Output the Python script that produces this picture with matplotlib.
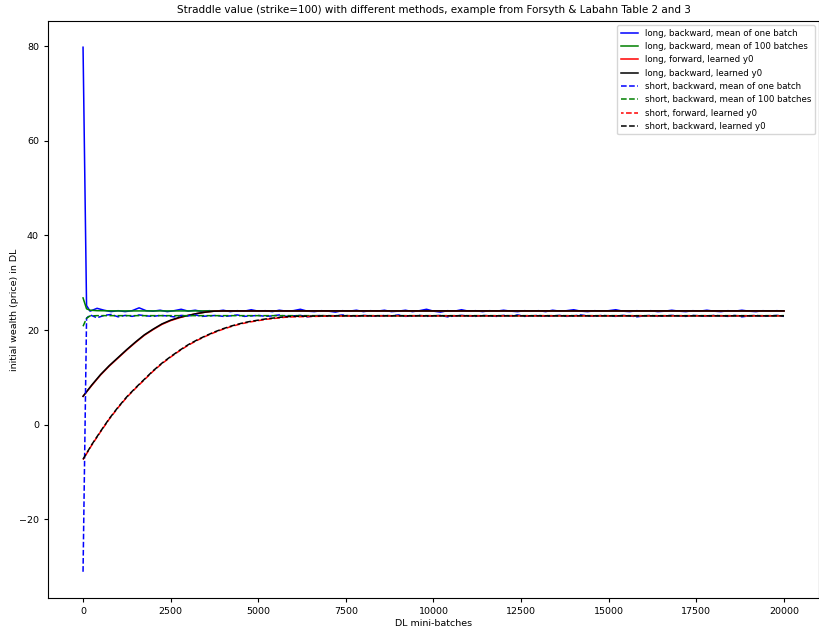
import matplotlib
matplotlib.use("Agg")
import matplotlib.pyplot as plt

# x positions (DL mini-batch index) for the noisy one-batch estimates
STEPS = [0, 100] + list(range(200, 20001, 200))

LONG_ONE = [
    79.8, 25.2, 24.0, 24.6, 24.2, 23.9, 24.1, 23.9, 24.1, 24.7,
    24.1, 24.0, 24.2, 23.9, 24.1, 24.4, 24.0, 24.2, 23.9, 24.1,
    24.0, 24.2, 23.9, 24.1, 24.0, 24.3, 24.0, 24.1, 23.9, 24.2,
    24.0, 24.1, 24.4, 24.0, 23.9, 24.1, 24.0, 23.8, 24.1, 24.0,
    24.2, 23.9, 24.1, 24.0, 24.2, 23.9, 24.0, 24.2, 23.9, 24.1,
    24.4, 24.0, 23.8, 24.1, 24.0, 24.3, 24.0, 24.1, 23.9, 24.1,
    24.0, 24.2, 24.0, 23.9, 24.1, 24.0, 24.1, 23.9, 24.2, 24.0,
    24.1, 24.3, 24.0, 23.9, 24.1, 24.0, 24.1, 24.3, 24.0, 23.9,
    24.1, 24.0, 24.1, 23.9, 24.0, 24.2, 24.0, 23.9, 24.1, 24.0,
    24.2, 24.0, 23.9, 24.1, 24.0, 24.2, 24.0, 23.9, 24.1, 24.0,
    24.1, 24.0,
]

SHORT_ONE = [
    -31.1, 22.5, 23.2, 22.6, 23.1, 23.3, 22.8, 23.1, 22.9, 23.2,
    23.0, 22.9, 23.1, 23.0, 22.8, 23.1, 23.0, 23.2, 22.9, 23.0,
    23.1, 22.9, 23.0, 23.2, 22.9, 23.0, 23.1, 22.9, 23.0, 23.2,
    22.9, 23.0, 23.1, 22.8, 23.0, 23.1, 22.9, 23.0, 23.2, 23.0,
    22.9, 23.1, 23.0, 22.9, 23.1, 23.0, 23.2, 22.9, 23.0, 23.1,
    22.9, 23.0, 23.1, 22.8, 23.0, 23.1, 23.0, 22.9, 23.1, 23.0,
    22.9, 23.1, 23.0, 23.2, 22.9, 23.0, 23.1, 22.9, 23.0, 23.1,
    22.9, 23.0, 23.2, 23.0, 22.9, 23.1, 23.0, 22.9, 23.1, 23.0,
    22.8, 23.0, 23.1, 22.9, 23.0, 23.1, 23.0, 22.9, 23.1, 23.0,
    22.9, 23.1, 23.0, 22.9, 23.1, 22.8, 23.0, 23.1, 22.9, 23.0,
    23.1, 22.9,
]

# mean of 100 batches: smooth, fewer samples needed
BATCH_STEPS = [0, 100, 200, 400, 1000, 2000, 4000, 8000, 12000, 16000, 20000]
LONG_100 = [26.8, 24.5, 24.2, 24.1, 24.05, 24.05, 24.05, 24.05, 24.05, 24.05, 24.05]
SHORT_100 = [20.8, 22.5, 23.0, 23.05, 23.05, 23.05, 23.05, 23.05, 23.05, 23.05, 23.05]

# learned y0 runs
LEARN_STEPS = list(range(0, 6001, 250)) + list(range(7000, 20001, 1000))
LONG_FWD = [
    6.0, 8.3, 10.5, 12.4, 14.1, 15.8, 17.4, 18.9, 20.1, 21.2,
    22.0, 22.6, 23.1, 23.5, 23.8, 24.0, 24.05, 24.05, 24.05, 24.05,
    24.05, 24.05, 24.05, 24.05, 24.05,
    24.05, 24.05, 24.05, 24.05, 24.05, 24.05, 24.05, 24.05, 24.05, 24.05,
    24.05, 24.05, 24.05, 24.05,
]
LONG_BWD = [
    6.0, 8.4, 10.6, 12.5, 14.2, 15.9, 17.5, 19.0, 20.2, 21.3,
    22.1, 22.7, 23.1, 23.5, 23.8, 24.0, 24.05, 24.05, 24.05, 24.05,
    24.05, 24.05, 24.05, 24.05, 24.05,
    24.05, 24.05, 24.05, 24.05, 24.05, 24.05, 24.05, 24.05, 24.05, 24.05,
    24.05, 24.05, 24.05, 24.05,
]
SHORT_FWD = [
    -7.4, -4.3, -1.5, 1.2, 3.6, 5.8, 7.7, 9.5, 11.3, 12.9,
    14.3, 15.6, 16.8, 17.8, 18.7, 19.5, 20.2, 20.8, 21.3, 21.7,
    22.0, 22.3, 22.5, 22.7, 22.8,
    22.95, 23.0, 23.0, 23.0, 23.0, 23.0, 23.0, 23.0, 23.0, 23.0,
    23.0, 23.0, 23.0, 23.0,
]
SHORT_BWD = [
    -7.3, -4.2, -1.4, 1.3, 3.7, 5.9, 7.8, 9.6, 11.4, 13.0,
    14.4, 15.7, 16.9, 17.9, 18.8, 19.6, 20.3, 20.9, 21.4, 21.8,
    22.1, 22.4, 22.6, 22.8, 22.9,
    23.0, 23.0, 23.0, 23.0, 23.0, 23.0, 23.0, 23.0, 23.0, 23.0,
    23.0, 23.0, 23.0, 23.0,
]

TITLE = ("Straddle value (strike=100) with different methods, "
         "example from Forsyth & Labahn Table 2 and 3")

plt.rcParams.update({
    "font.family": "DejaVu Sans",
    "font.size": 6.8,
    "lines.linewidth": 1.1,
})

fig = plt.figure(figsize=(8.2, 6.31), dpi=100)
ax = fig.add_axes([48 / 820, 1 - 598 / 631, 771 / 820, 577 / 631])

ax.plot(STEPS, LONG_ONE, color="b", label="long, backward, mean of one batch")
ax.plot(BATCH_STEPS, LONG_100, color="g", label="long, backward, mean of 100 batches")
ax.plot(LEARN_STEPS, LONG_FWD, color="r", label="long, forward, learned y0")
ax.plot(LEARN_STEPS, LONG_BWD, color="k", label="long, backward, learned y0")
ax.plot(STEPS, SHORT_ONE, color="b", ls="--", label="short, backward, mean of one batch")
ax.plot(BATCH_STEPS, SHORT_100, color="g", ls="--", label="short, backward, mean of 100 batches")
# offset dash phase so the red run peeks out between the black dashes
ax.plot(LEARN_STEPS, SHORT_FWD, color="r", ls=(2.0, (3.7, 1.6)), label="short, forward, learned y0")
ax.plot(LEARN_STEPS, SHORT_BWD, color="k", ls="--", label="short, backward, learned y0")

ax.set_xlim(-1000, 21000)
ax.set_title(TITLE, fontsize=7.5)
ax.set_xlabel("DL mini-batches", labelpad=2)
ax.set_ylabel("initial wealth (price) in DL", labelpad=0)
ax.tick_params(labelsize=6.8, length=3)
ax.legend(loc="upper right", fontsize=6.2)

fig.savefig("out.png", dpi=100)
